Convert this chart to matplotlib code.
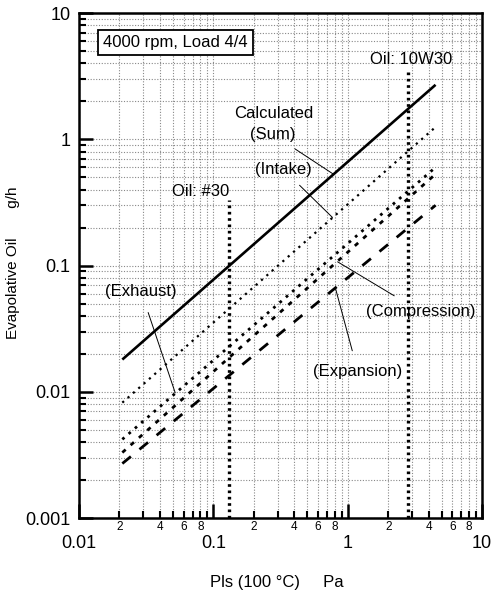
import matplotlib
matplotlib.use("Agg")
import matplotlib.pyplot as plt
from matplotlib.ticker import LogLocator, FuncFormatter, NullFormatter

plt.rcParams['font.family'] = ['Liberation Sans', 'DejaVu Sans']

# data
pls = [0.021, 4.5]
sum_oil = [0.018, 2.7]
intake_oil = [0.0082, 1.25]
exhaust_oil = [0.0042, 0.6]
compression_oil = [0.0033, 0.53]
expansion_oil = [0.0027, 0.30]

oil_names = ["Oil: #30", "Oil: 10W30"]
oil_pls = [0.13, 2.8]
oil_top = [0.33, 3.6]

fig = plt.figure(figsize=(4.92, 5.95), dpi=100)
ax = fig.add_axes([0.1606, 0.1294, 0.8194, 0.8487])
ax.set_xscale('log')
ax.set_yscale('log')
ax.set_xlim(0.01, 10)
ax.set_ylim(0.001, 10)

ax.plot(pls, sum_oil, color='black', lw=1.9, solid_capstyle='butt')
ax.plot(pls, intake_oil, color='black', lw=1.6, linestyle=(0, (1, 2.2)))
ax.plot(pls, exhaust_oil, color='black', lw=2.0, linestyle=(0, (1, 2.0)))
ax.plot(pls, compression_oil, color='black', lw=2.0, linestyle=(0, (1.6, 2.4)))
ax.plot(pls, expansion_oil, color='black', lw=2.0, linestyle=(0, (4, 4)))

for name, xo, top in zip(oil_names, oil_pls, oil_top):
    ax.plot([xo, xo], [0.001, top], color='black', lw=2.4, linestyle=(0, (0.8, 1.1)))

# text labels with leader lines
fs = 12
lead = dict(arrowstyle='-', color='black', lw=0.7, shrinkB=0)
ax.text(0.28, 1.61, "Calculated", ha='center', va='center', fontsize=fs)
ax.annotate("(Sum)", xy=(0.78, 0.53), xytext=(0.275, 1.1), ha='center', va='center',
            fontsize=fs, arrowprops=dict(lead, shrinkA=6))
ax.annotate("(Intake)", xy=(0.77, 0.24), xytext=(0.33, 0.58), ha='center', va='center',
            fontsize=fs, arrowprops=dict(lead, shrinkA=6))
ax.annotate("(Exhaust)", xy=(0.052, 0.0098), xytext=(0.029, 0.062), ha='center', va='center',
            fontsize=fs, arrowprops=dict(lead, shrinkA=8))
ax.annotate("(Compression)", xy=(0.84, 0.107), xytext=(3.5, 0.043), ha='center', va='center',
            fontsize=fs, arrowprops=dict(lead, shrinkA=8))
ax.annotate("(Expansion)", xy=(0.81, 0.066), xytext=(1.19, 0.0144), ha='center', va='center',
            fontsize=fs, arrowprops=dict(lead, shrinkA=8))
ax.text(0.081, 0.386, oil_names[0], ha='center', va='center', fontsize=fs)
ax.text(2.95, 4.3, oil_names[1], ha='center', va='center', fontsize=fs)
ax.text(0.052, 5.8, "4000 rpm, Load 4/4", ha='center', va='center', fontsize=fs,
        bbox=dict(boxstyle='square,pad=0.3', fc='white', ec='black', lw=1.3))

# axes styling
ax.xaxis.set_major_locator(LogLocator(base=10, numticks=10))
ax.xaxis.set_minor_locator(LogLocator(base=10, subs=range(2, 10), numticks=10))
ax.yaxis.set_major_locator(LogLocator(base=10, numticks=10))
ax.yaxis.set_minor_locator(LogLocator(base=10, subs=range(2, 10), numticks=10))

ax.xaxis.set_major_formatter(FuncFormatter(lambda v, p: f"{v:g}"))
ax.yaxis.set_major_formatter(FuncFormatter(lambda v, p: f"{v:g}"))


def minor_lab(v, p):
    m = round(v / 10 ** int(f"{v:e}".split('e')[1]))
    return str(m) if m in (2, 4, 6, 8) else ""


ax.xaxis.set_minor_formatter(FuncFormatter(minor_lab))
ax.yaxis.set_minor_formatter(NullFormatter())

ax.tick_params(which='major', direction='in', length=10, width=1.8, labelsize=13,
               top=False, right=False)
ax.tick_params(axis='x', which='major', pad=12)
ax.tick_params(axis='y', which='major', pad=6)
ax.tick_params(which='minor', direction='in', length=5, width=1.5, labelsize=8.5,
               top=False, right=False)
ax.tick_params(axis='x', which='minor', pad=2)

ax.grid(True, which='both', color='#888888', lw=0.8, linestyle=(0, (1, 1.5)))
for s in ax.spines.values():
    s.set_linewidth(1.8)

ax.set_ylabel("Evapolative Oil       g/h", fontsize=11)
ax.yaxis.set_label_coords(-0.146, 0.505)
ax.set_xlabel("Pls (100 °C)     Pa", fontsize=12)
ax.xaxis.set_label_coords(0.49, -0.112)

fig.savefig("out.png", dpi=100)
